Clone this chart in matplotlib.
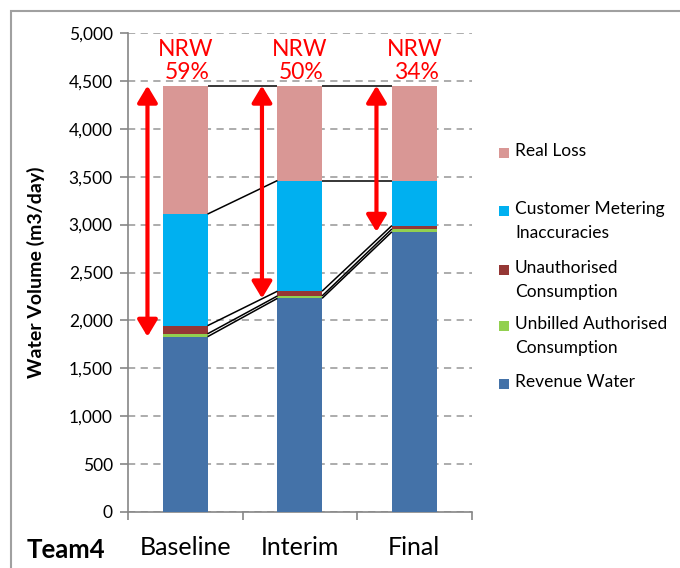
import matplotlib
matplotlib.use("Agg")
import matplotlib.pyplot as plt
from matplotlib.patches import Rectangle
import numpy as np

plt.rcParams['font.family'] = ['Lato', 'DejaVu Sans']

categories = ["Baseline", "Interim", "Final"]
revenue_water = [1830, 2230, 2925]
unbilled_authorised = [30, 25, 30]
unauthorised = [85, 50, 35]
metering_inaccuracies = [1165, 1155, 470]
real_loss = [1340, 990, 990]
nrw_labels = ["59%", "50%", "34%"]

series = [
    ("Revenue Water", revenue_water, "#4472A8"),
    ("Unbilled Authorised\nConsumption", unbilled_authorised, "#92D050"),
    ("Unauthorised\nConsumption", unauthorised, "#953735"),
    ("Customer Metering\nInaccuracies", metering_inaccuracies, "#00B0F0"),
    ("Real Loss", real_loss, "#D99795"),
]

fig = plt.figure(figsize=(6.8, 5.68), dpi=100)
ax = fig.add_axes([128 / 680, 56 / 568, (471.5 - 128) / 680, (512 - 33) / 568])

x = np.arange(len(categories))
width = 0.39
bottom = np.zeros(len(categories))
tops = []
for name, vals, color in series:
    vals = np.array(vals, dtype=float)
    ax.bar(x, vals, width, bottom=bottom, color=color, edgecolor="none", zorder=3)
    bottom = bottom + vals
    tops.append(bottom.copy())

# series lines joining the top of every segment between neighbouring bars
for top in tops:
    for i in range(len(categories) - 1):
        ax.plot([x[i] + width / 2, x[i + 1] - width / 2], [top[i], top[i + 1]],
                color="black", lw=1.1, zorder=4, solid_capstyle="butt")

# NRW arrows and labels
total = tops[-1]
for i in range(len(categories)):
    ax.annotate("", xy=(x[i] - 0.33, revenue_water[i]), xytext=(x[i] - 0.33, total[i]),
                arrowprops=dict(arrowstyle="<|-|>,head_length=1.0,head_width=0.6",
                                color="#FF0000", lw=3, shrinkA=0, shrinkB=0),
                zorder=5)
    ax.text(x[i], 4765, "NRW", color="#FF0000", fontsize=16.5, ha="center",
            va="baseline", zorder=6)
    ax.text(x[i] + 0.015, 4525, nrw_labels[i], color="#FF0000", fontsize=16.5,
            ha="center", va="baseline", zorder=6)

ax.set_xlim(-0.5, 2.5)
ax.set_ylim(0, 5000)
ax.set_yticks(np.arange(0, 5001, 500))
ax.set_yticklabels([f"{v:,}" for v in range(0, 5001, 500)], fontsize=12.5)
ax.yaxis.grid(True, color="#A6A6A6", linestyle=(0, (4, 3)), lw=1.3, zorder=0)

ax.set_xticks(x)
ax.set_xticklabels(categories, fontsize=18)
ax.set_xticks([-0.5, 0.5, 1.5, 2.5], minor=True)
ax.tick_params(axis="x", which="major", length=0, pad=17)
ax.tick_params(axis="x", which="minor", length=6, color="#868686", width=1.2, direction="out")
ax.tick_params(axis="y", length=6, color="#868686", width=1.2, direction="out", pad=5)

for side in ["top", "right"]:
    ax.spines[side].set_visible(False)
for side in ["left", "bottom"]:
    ax.spines[side].set_color("#868686")
    ax.spines[side].set_linewidth(1.2)

ax.set_ylabel("Water Volume (m3/day)", fontsize=14, fontweight="bold")
ax.yaxis.set_label_coords((45 - 128) / 343.5, 0.5)

fig.text(27 / 680, 1 - 550 / 568, "Team4", fontsize=18.5, fontweight="bold",
         ha="left", va="center")

# legend, top entry first
legend_rows = [series[4], series[3], series[2], series[1], series[0]]
row_y = [153, 211, 270, 326, 384]
for (name, vals, color), py in zip(legend_rows, row_y):
    fig.patches.append(Rectangle((499 / 680, 1 - (py + 5) / 568), 10 / 680, 10 / 568,
                                 transform=fig.transFigure, facecolor=color,
                                 edgecolor="none"))
    fig.text(515 / 680, 1 - (py - 10) / 568, name, fontsize=12.5, ha="left", va="top",
             linespacing=1.6)

# chart frame
fig.patches.append(Rectangle((11 / 680, -0.1), 1.2, 1 - 11 / 568 + 0.1,
                             transform=fig.transFigure, fill=False,
                             edgecolor="#A0A0A0", lw=1.5))

fig.savefig("out.png", dpi=100)
